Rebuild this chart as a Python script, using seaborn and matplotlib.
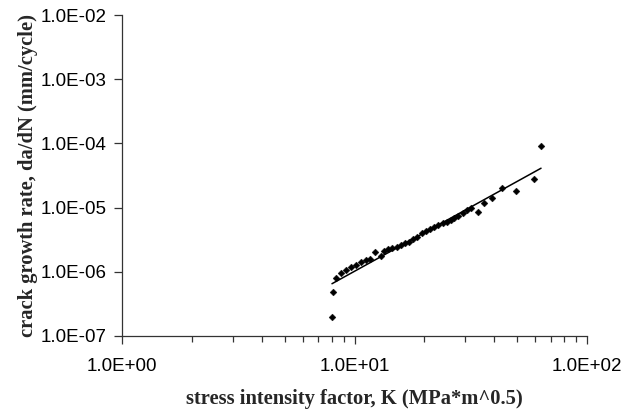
import numpy as np
import pandas as pd
import matplotlib
matplotlib.use("Agg")
import matplotlib.pyplot as plt
from matplotlib.ticker import FuncFormatter, LogLocator, NullLocator
import seaborn as sns

# Stress intensity factor K (MPa*m^0.5) and measured crack growth rate da/dN (mm/cycle)
stress_intensity = [
    8.00, 8.11, 8.30, 8.71, 9.19, 9.66, 10.15, 10.66, 11.21, 11.66,
    12.25, 12.94, 13.43, 13.98, 14.54, 15.19, 15.80, 16.49, 17.16, 17.90,
    18.63, 19.51, 20.30, 21.12, 22.04, 22.94, 23.95, 24.92, 25.94, 26.87,
    27.96, 29.20, 30.38, 31.61, 34.08, 36.16, 39.14, 43.23, 49.51, 59.16,
    63.42,
]
growth_rate = [
    1.95e-7, 4.90e-7, 7.92e-7, 9.75e-7, 1.07e-6, 1.17e-6, 1.28e-6, 1.42e-6, 1.50e-6, 1.58e-6,
    2.00e-6, 1.76e-6, 2.13e-6, 2.24e-6, 2.32e-6, 2.46e-6, 2.61e-6, 2.78e-6, 2.94e-6, 3.21e-6,
    3.52e-6, 4.02e-6, 4.32e-6, 4.59e-6, 4.93e-6, 5.36e-6, 5.69e-6, 6.03e-6, 6.41e-6, 6.97e-6,
    7.48e-6, 8.15e-6, 9.18e-6, 9.75e-6, 8.63e-6, 1.17e-5, 1.40e-5, 2.00e-5, 1.79e-5, 2.79e-5,
    9.12e-5,
]

df = pd.DataFrame({"K": stress_intensity, "rate": growth_rate})

# Paris-law power trendline: least squares in log-log space
slope, intercept = np.polyfit(np.log10(df["K"]), np.log10(df["rate"]), 1)
k_fit = np.geomspace(df["K"].min(), df["K"].max(), 50)
fit = pd.DataFrame({"K": k_fit, "rate": 10 ** (intercept + slope * np.log10(k_fit))})

sns.set_theme(style="ticks")
plt.rcParams["font.family"] = ["Liberation Sans", "DejaVu Sans"]

fig = plt.figure(figsize=(6.34, 4.11), dpi=100)
ax = fig.add_axes([0.1924, 0.1825, 0.7335, 0.781])

sns.lineplot(data=fit, x="K", y="rate", color="black", linewidth=1.1, ax=ax)
sns.scatterplot(data=df, x="K", y="rate", marker="D", s=12, color="black",
                edgecolor="black", linewidth=0.3, ax=ax, zorder=3)

ax.set_xscale("log")
ax.set_yscale("log")
ax.set_xlim(1, 100)
ax.set_ylim(1e-7, 1e-2)

sci = FuncFormatter(lambda v, pos: f"{v:.1E}")
ax.xaxis.set_major_locator(LogLocator(base=10, numticks=10))
ax.xaxis.set_minor_locator(LogLocator(base=10, subs=np.arange(2, 10), numticks=20))
ax.xaxis.set_major_formatter(sci)
ax.xaxis.set_minor_formatter(FuncFormatter(lambda v, pos: ""))
ax.yaxis.set_major_locator(LogLocator(base=10, numticks=10))
ax.yaxis.set_minor_locator(NullLocator())
ax.yaxis.set_major_formatter(sci)

ax.tick_params(axis="both", which="major", direction="out", length=6, width=0.9,
               color="#333333", labelsize=13.5, labelcolor="black")
ax.tick_params(axis="y", which="major", pad=5)
ax.tick_params(axis="x", which="major", pad=10)
ax.tick_params(axis="x", which="minor", direction="out", length=4, width=0.9,
               color="#333333")

for side in ("top", "right"):
    ax.spines[side].set_visible(False)
for side in ("left", "bottom"):
    ax.spines[side].set_color("#333333")
    ax.spines[side].set_linewidth(0.9)

label_font = dict(family=["Liberation Serif", "DejaVu Serif"], weight="bold", size=14.8)
ax.set_xlabel("stress intensity factor, K (MPa*m^0.5)", labelpad=10, **label_font)
ax.set_ylabel("crack growth rate, da/dN (mm/cycle)", labelpad=2, **label_font)

fig.savefig("out.png", dpi=100)
